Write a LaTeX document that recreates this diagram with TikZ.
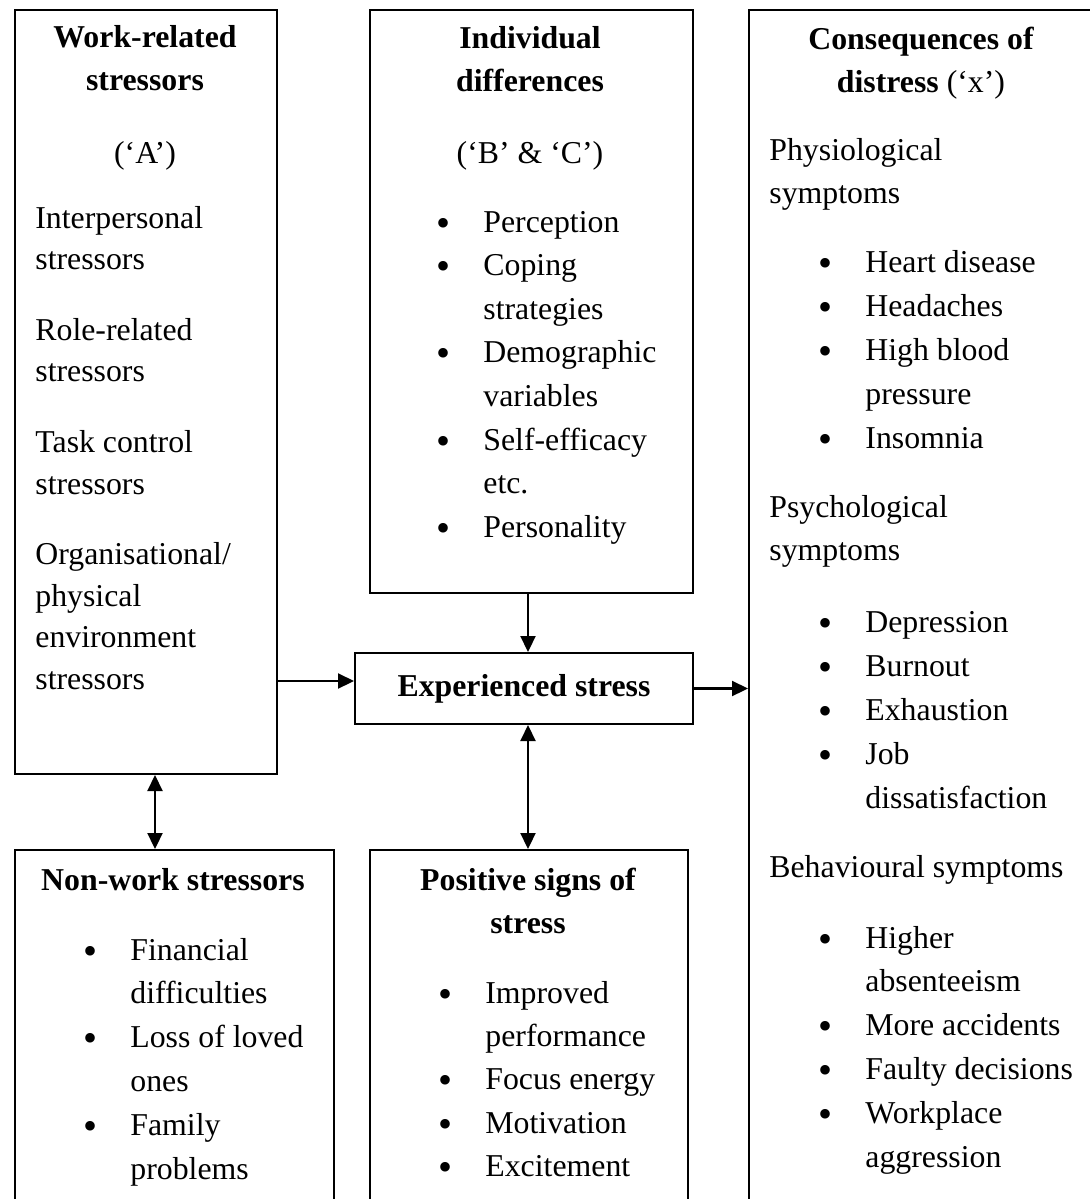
\documentclass[tikz,border=0pt]{standalone}
\usepackage{fontspec}
\setmainfont{Liberation Serif}
\usetikzlibrary{arrows.meta}

\newcommand{\bul}{\makebox[7pt]{\raisebox{-2pt}{\fontsize{20}{20}\selectfont\textbullet}}}
\newcommand{\ctab}[1]{\begin{tabular}[t]{@{}c@{}}#1\end{tabular}}
\newcommand{\ltab}[1]{\begin{tabular}[t]{@{}l@{}}#1\end{tabular}}
\newcommand{\btab}[1]{\begin{tabular}[t]{@{\hspace{24.5pt}}c@{\hspace{16.5pt}}l@{}}#1\end{tabular}}
\newcommand{\riga}[1]{\multicolumn{2}{@{}l@{}}{#1}}

\begin{document}
\begin{tikzpicture}[
    x=0.5pt, y=-0.5pt,
    box/.style={
        draw,
        line width=1pt,
        rectangle,
        anchor=north west,
        inner sep=0pt
    },
    txt/.style={
        inner sep=0pt,
        font=\fontsize{15.9}{21.8}\selectfont
    },
    head/.style={
        txt,
        anchor=base,
        font=\fontsize{15.9}{21.6}\selectfont\bfseries
    },
    lista/.style={
        txt,
        anchor=base west
    },
    freccia/.style={
        line width=1.1pt,
        -{Triangle[length=8pt,width=7.5pt]}
    },
    doppia/.style={
        line width=1.1pt,
        {Triangle[length=8pt,width=7.5pt]}-{Triangle[length=8pt,width=7.5pt]}
    }
]

    \useasboundingbox (0,0) rectangle (1090,1199);
    \clip (0,0) rectangle (1090,1199);

    % Riquadri
    \node[box, minimum width=131pt, minimum height=382pt] (work) at (14,9) {};
    \node[box, minimum width=161.5pt, minimum height=291.5pt] (indiv) at (369,9) {};
    \node[box, minimum width=173pt, minimum height=620pt] (conseq) at (748,9) {};
    \node[box, minimum width=169pt, minimum height=35.5pt,
          font=\fontsize{15.9}{21.8}\selectfont\bfseries] (stress) at (354,652) {Experienced stress};
    \node[box, minimum width=159.5pt, minimum height=200pt] (nonwork) at (14,849) {};
    \node[box, minimum width=159pt, minimum height=200pt] (positive) at (369,849) {};

    % Stressor lavorativi
    \node[head] (work-head) at (145,47) {\ctab{Work-related\\stressors}};
    \node[txt, anchor=base] (work-tag) at (145,163) {(‘A’)};
    \node[lista, font=\fontsize{15.9}{20.8}\selectfont] (work-list) at (35,228)
        {\ltab{Interpersonal\\stressors\\[14.5pt]Role-related\\stressors\\[14.5pt]Task control\\stressors\\[14.5pt]Organisational/\\physical\\environment\\stressors}};

    % Differenze individuali
    \node[head] (indiv-head) at (530,48) {\ctab{Individual\\differences}};
    \node[txt, anchor=base] (indiv-tag) at (530,163) {(‘B’ \& ‘C’)};
    \node[lista] (indiv-list) at (387,232)
        {\btab{\bul & Perception\\ \bul & Coping\\ & strategies\\ \bul & Demographic\\ & variables\\ \bul & Self-efficacy\\ & etc.\\ \bul & Personality}};

    % Conseguenze
    \node[head] (conseq-head) at (921,49) {\ctab{Consequences of\\distress \textmd{(‘x’)}}};
    \node[lista, font=\fontsize{15.9}{21.9}\selectfont] (conseq-list) at (769,160)
        {\btab{\riga{Physiological}\\ \riga{symptoms}\\[12.6pt]
        \bul & Heart disease\\ \bul & Headaches\\ \bul & High blood\\ & pressure\\ \bul & Insomnia\\[12.6pt]
        \riga{Psychological}\\ \riga{symptoms}\\[14.1pt]
        \bul & Depression\\ \bul & Burnout\\ \bul & Exhaustion\\ \bul & Job\\ & dissatisfaction\\[12.6pt]
        \riga{Behavioural symptoms}\\[13.6pt]
        \bul & Higher\\ & absenteeism\\ \bul & More accidents\\ \bul & Faulty decisions\\ \bul & Workplace\\ & aggression}};

    % Stressor extra-lavorativi
    \node[head] (nonwork-head) at (173,890) {Non-work stressors};
    \node[lista, font=\fontsize{15.9}{21.9}\selectfont] (nonwork-list) at (34,960)
        {\btab{\bul & Financial\\ & difficulties\\ \bul & Loss of loved\\ & ones\\ \bul & Family\\ & problems}};

    % Segnali positivi
    \node[head] (positive-head) at (528,890) {\ctab{Positive signs of\\stress}};
    \node[lista, font=\fontsize{15.9}{21.7}\selectfont] (positive-list) at (389,1003)
        {\btab{\bul & Improved\\ & performance\\ \bul & Focus energy\\ \bul & Motivation\\ \bul & Excitement}};

    % Frecce
    \coordinate (in) at ([yshift=3.75pt]stress.west);
    \coordinate (sb) at ([xshift=2pt]stress.south);
    \coordinate (wb) at ([xshift=4.5pt]work.south);
    \draw[freccia] (work.east |- in) -- (in);
    \draw[freccia] (indiv.south -| sb) -- (sb |- stress.north);
    \draw[freccia] (stress.east) -- (stress.east -| conseq.west);
    \draw[doppia] (sb) -- (sb |- positive.north);
    \draw[doppia] (wb) -- (wb |- nonwork.north);

\end{tikzpicture}
\end{document}
